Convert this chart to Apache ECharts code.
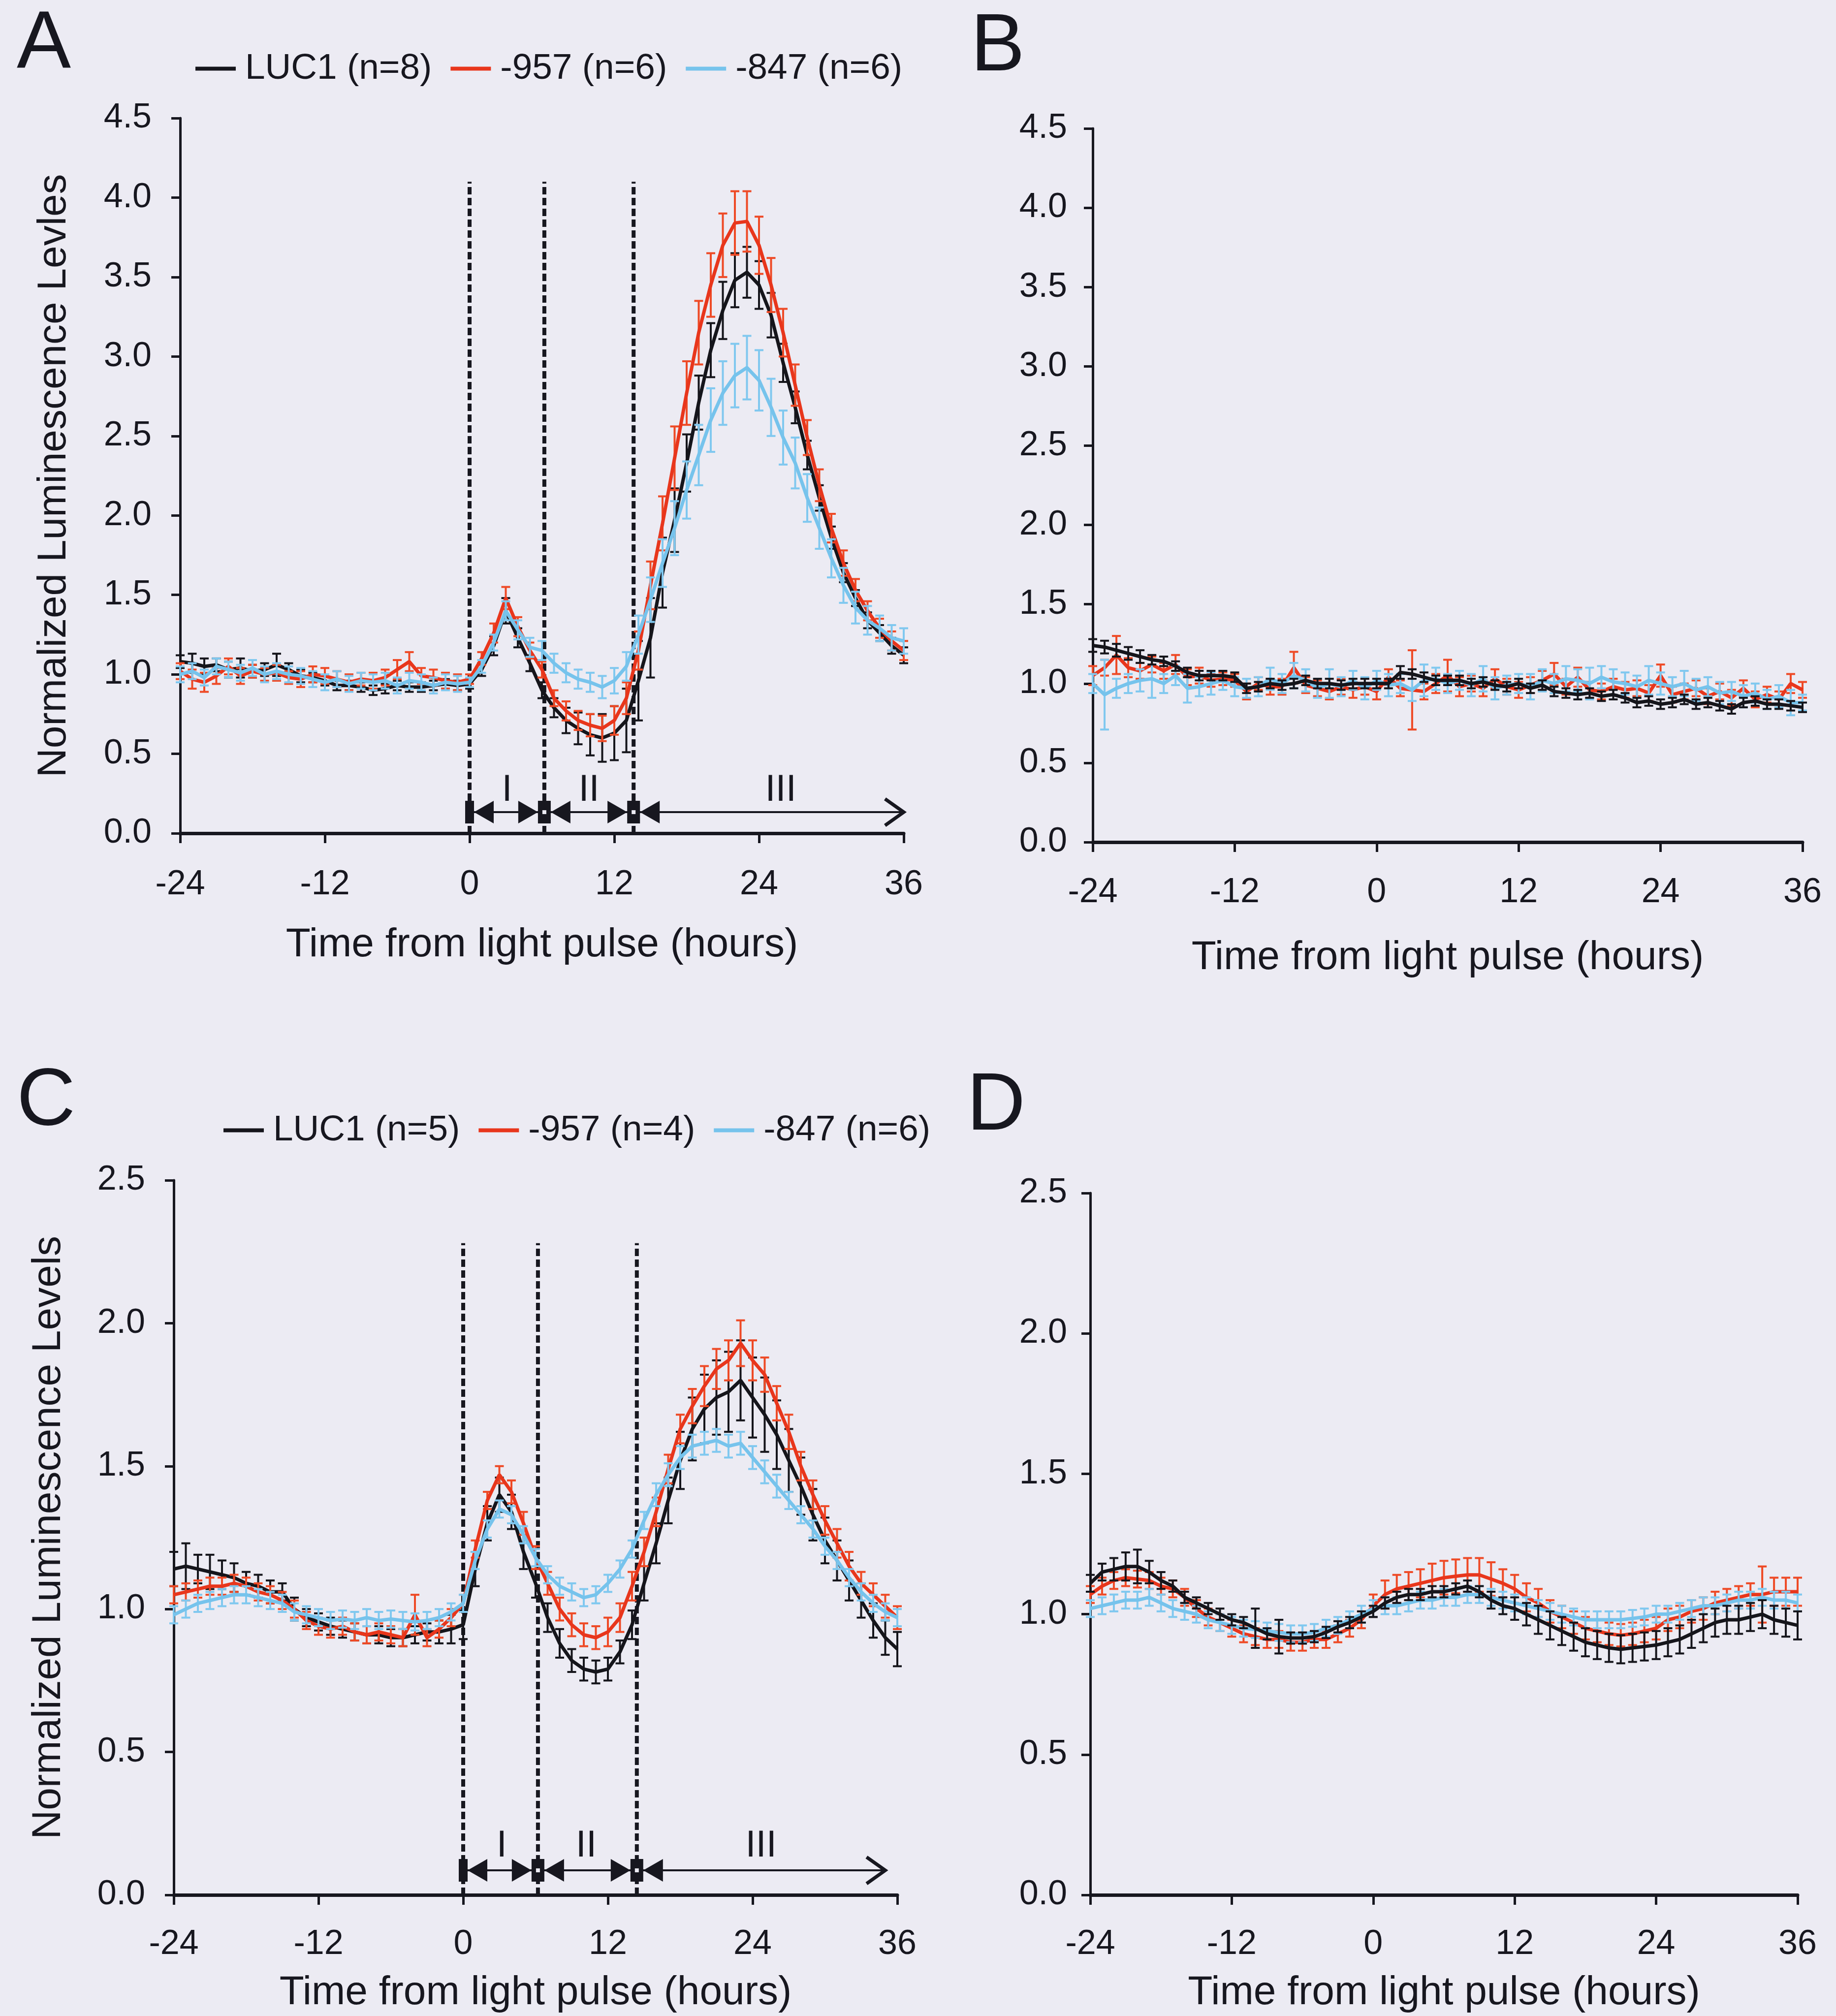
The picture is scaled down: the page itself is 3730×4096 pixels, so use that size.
<!DOCTYPE html>
<html>
<head>
<meta charset="utf-8">
<script src="https://cdn.jsdelivr.net/npm/echarts@6/dist/echarts.min.js"></script>
<style>
  html, body { margin: 0; padding: 0; background: #ecebf3; }
  #chart { width: 3730px; height: 4096px; }
</style>
</head>
<body>
<div id="chart"></div>
<script>
// time axis, hours from light pulse (one reading per hour)
const hours = [-24,-23,-22,-21,-20,-19,-18,-17,-16,-15,-14,-13,-12,-11,-10,-9,-8,-7,-6,-5,-4,-3,-2,-1,
  0,1,2,3,4,5,6,7,8,9,10,11,12,13,14,15,16,17,18,19,20,21,22,23,24,25,26,27,28,29,30,31,32,33,34,35,36];

// panel A
const aLuc1 = [1.08,1.07,1.05,1.06,1.03,1.04,1.02,1.03,1.06,1.03,0.99,0.98,0.96,0.93,0.93,0.92,0.90,0.91,0.93,0.92,0.92,0.93,0.94,0.93,
  0.94,1.03,1.18,1.40,1.23,1.07,0.90,0.79,0.71,0.66,0.62,0.60,0.63,0.71,0.96,1.23,1.64,1.97,2.33,2.71,3.04,3.29,3.48,3.53,3.45,3.26,2.96,2.68,2.38,2.11,1.86,1.64,1.48,1.34,1.26,1.18,1.12];
const a957 = [1.02,0.97,0.95,0.99,1.05,0.99,1.02,1.00,1.01,0.98,0.97,1.00,0.99,0.97,0.95,0.97,0.96,0.98,1.03,1.08,0.99,0.98,0.96,0.95,
  0.97,1.10,1.26,1.48,1.30,1.15,1.03,0.85,0.77,0.71,0.68,0.66,0.71,0.85,1.15,1.56,1.95,2.36,2.77,3.15,3.45,3.70,3.84,3.85,3.70,3.45,3.15,2.82,2.49,2.19,1.92,1.70,1.53,1.40,1.29,1.21,1.15];
const a847 = [1.00,1.02,0.98,1.05,1.03,1.01,1.04,1.00,1.02,1.00,0.99,0.97,0.95,0.97,0.94,0.96,0.95,0.96,0.93,0.96,0.95,0.93,0.95,0.94,
  0.95,1.05,1.20,1.40,1.28,1.17,1.15,1.07,1.01,0.97,0.95,0.92,0.96,1.05,1.25,1.47,1.70,1.92,2.16,2.38,2.60,2.77,2.88,2.93,2.85,2.68,2.49,2.33,2.11,1.92,1.73,1.56,1.42,1.34,1.29,1.23,1.21];
const aLuc1Err = [0.04,0.06,0.05,0.04,0.05,0.06,0.04,0.04,0.07,0.04,0.04,0.03,0.03,0.03,0.03,0.03,0.03,0.03,0.03,0.03,0.03,0.03,0.03,0.03,
  0.03,0.04,0.06,0.08,0.06,0.05,0.05,0.06,0.08,0.10,0.13,0.15,0.17,0.20,0.25,0.25,0.22,0.20,0.18,0.17,0.17,0.18,0.17,0.16,0.15,0.14,0.12,0.10,0.09,0.08,0.07,0.06,0.05,0.05,0.05,0.05,0.05];
const a957Err = [0.05,0.06,0.06,0.05,0.05,0.05,0.04,0.04,0.05,0.04,0.05,0.05,0.05,0.05,0.05,0.04,0.05,0.05,0.06,0.06,0.05,0.05,0.05,0.05,
  0.03,0.04,0.06,0.07,0.06,0.05,0.05,0.05,0.06,0.06,0.07,0.08,0.09,0.10,0.12,0.15,0.17,0.20,0.20,0.20,0.20,0.20,0.20,0.19,0.18,0.17,0.15,0.13,0.11,0.10,0.09,0.08,0.07,0.06,0.06,0.06,0.06];
const a847Err = [0.05,0.05,0.05,0.05,0.05,0.05,0.05,0.05,0.05,0.05,0.05,0.05,0.05,0.05,0.05,0.05,0.05,0.05,0.05,0.05,0.05,0.05,0.05,0.05,
  0.03,0.04,0.05,0.06,0.06,0.06,0.06,0.06,0.06,0.06,0.06,0.07,0.08,0.09,0.12,0.14,0.15,0.17,0.18,0.19,0.20,0.20,0.20,0.20,0.19,0.18,0.17,0.16,0.15,0.13,0.12,0.11,0.10,0.09,0.08,0.08,0.08];

// panel B
const bLuc1 = [1.24,1.23,1.21,1.19,1.17,1.15,1.14,1.11,1.07,1.05,1.05,1.05,1.04,0.97,0.98,1.00,0.99,1.00,1.02,1.00,1.00,0.99,1.00,1.00,
  1.00,1.00,1.07,1.06,1.04,1.02,1.02,1.02,1.00,1.01,0.99,0.98,1.00,0.97,0.99,0.95,0.94,0.93,0.94,0.92,0.93,0.91,0.88,0.89,0.87,0.88,0.90,0.87,0.88,0.86,0.84,0.88,0.89,0.87,0.87,0.86,0.85];
const b957 = [1.05,1.10,1.18,1.10,1.08,1.12,1.08,1.12,1.04,1.05,1.02,1.03,1.02,0.95,1.00,0.98,0.98,1.10,0.99,0.97,0.95,0.98,0.96,0.98,
  0.95,1.04,0.97,0.96,0.95,1.00,1.05,0.98,1.00,0.97,1.03,0.98,0.96,0.99,1.02,1.06,0.98,1.04,0.96,0.95,0.98,0.96,0.97,0.94,1.05,0.93,0.95,0.97,0.92,0.95,0.91,0.97,0.90,0.93,0.90,1.00,0.96];
const b847 = [1.00,0.93,0.97,1.00,1.02,1.03,1.00,1.05,0.97,0.98,1.00,1.02,0.98,0.97,0.98,1.03,1.00,1.05,1.02,0.97,1.00,0.98,1.02,0.97,
  1.02,0.99,1.00,0.96,1.02,1.03,1.00,1.02,0.99,1.03,0.97,0.99,1.00,0.98,1.02,1.00,1.03,1.02,1.00,1.04,1.01,1.00,0.98,1.02,1.00,0.98,1.00,0.96,0.98,0.94,0.95,0.92,0.94,0.90,0.92,0.88,0.88];
const bLuc1Err = [0.04,0.04,0.04,0.04,0.04,0.03,0.03,0.03,0.03,0.03,0.03,0.03,0.03,0.03,0.03,0.03,0.03,0.03,0.03,0.03,0.03,0.03,0.03,0.03,
  0.03,0.03,0.04,0.03,0.03,0.03,0.03,0.03,0.03,0.03,0.03,0.03,0.03,0.03,0.03,0.03,0.03,0.03,0.03,0.03,0.03,0.03,0.03,0.03,0.03,0.03,0.03,0.03,0.03,0.03,0.03,0.03,0.03,0.03,0.03,0.03,0.03];
const b957Err = [0.06,0.05,0.12,0.06,0.05,0.05,0.05,0.06,0.05,0.05,0.04,0.04,0.04,0.05,0.04,0.05,0.05,0.10,0.05,0.05,0.05,0.05,0.05,0.05,
  0.05,0.05,0.05,0.25,0.05,0.06,0.10,0.06,0.05,0.05,0.06,0.05,0.05,0.05,0.06,0.07,0.05,0.06,0.05,0.05,0.05,0.05,0.05,0.05,0.07,0.05,0.05,0.05,0.05,0.05,0.05,0.05,0.05,0.05,0.05,0.06,0.05];
const b847Err = [0.06,0.22,0.06,0.06,0.07,0.12,0.06,0.06,0.09,0.06,0.07,0.06,0.06,0.06,0.06,0.07,0.06,0.08,0.07,0.06,0.09,0.06,0.06,0.07,
  0.06,0.07,0.06,0.07,0.10,0.07,0.06,0.06,0.07,0.08,0.07,0.06,0.06,0.08,0.07,0.06,0.08,0.07,0.10,0.07,0.08,0.07,0.07,0.09,0.07,0.06,0.08,0.07,0.06,0.07,0.06,0.07,0.06,0.06,0.07,0.08,0.05];

// panel C
const cLuc1 = [1.14,1.15,1.14,1.13,1.12,1.11,1.09,1.08,1.06,1.06,1.00,0.97,0.955,0.94,0.93,0.92,0.91,0.91,0.90,0.90,0.91,0.92,0.92,0.93,
  0.945,1.14,1.30,1.40,1.34,1.20,1.09,0.97,0.88,0.82,0.79,0.78,0.79,0.85,0.945,1.09,1.23,1.38,1.52,1.63,1.70,1.74,1.76,1.80,1.74,1.68,1.61,1.52,1.43,1.33,1.24,1.17,1.10,1.03,0.96,0.90,0.86];
const c957 = [1.05,1.06,1.07,1.08,1.08,1.09,1.08,1.06,1.05,1.03,1.00,0.96,0.94,0.93,0.94,0.92,0.91,0.92,0.91,0.90,0.98,0.90,0.93,0.97,
  1.02,1.21,1.38,1.47,1.41,1.30,1.18,1.09,1.00,0.945,0.91,0.90,0.92,0.97,1.08,1.20,1.34,1.49,1.63,1.71,1.78,1.84,1.87,1.93,1.87,1.82,1.72,1.62,1.50,1.40,1.31,1.23,1.15,1.09,1.05,1.01,0.97];
const c847 = [0.98,1.00,1.02,1.03,1.04,1.05,1.05,1.04,1.03,1.02,0.99,0.98,0.97,0.96,0.965,0.96,0.97,0.96,0.965,0.96,0.955,0.96,0.97,0.99,
  1.02,1.17,1.28,1.35,1.33,1.26,1.18,1.12,1.08,1.06,1.04,1.05,1.09,1.14,1.21,1.31,1.40,1.47,1.53,1.57,1.58,1.59,1.57,1.58,1.53,1.48,1.43,1.38,1.33,1.28,1.22,1.17,1.11,1.06,1.02,0.99,0.97];
const cLuc1Err = [0.06,0.08,0.05,0.06,0.05,0.05,0.04,0.04,0.04,0.03,0.04,0.03,0.03,0.03,0.03,0.03,0.03,0.03,0.03,0.03,0.03,0.03,0.04,0.05,
  0.05,0.06,0.06,0.06,0.06,0.06,0.05,0.05,0.05,0.04,0.04,0.04,0.04,0.04,0.05,0.06,0.07,0.08,0.10,0.11,0.12,0.13,0.14,0.14,0.14,0.13,0.12,0.11,0.10,0.09,0.08,0.07,0.07,0.06,0.06,0.06,0.06];
const c957Err = [0.03,0.03,0.03,0.03,0.03,0.03,0.03,0.03,0.03,0.03,0.03,0.03,0.03,0.03,0.03,0.03,0.03,0.03,0.03,0.03,0.07,0.03,0.03,0.03,
  0.03,0.03,0.03,0.03,0.04,0.04,0.04,0.04,0.04,0.04,0.04,0.04,0.05,0.05,0.05,0.05,0.05,0.05,0.05,0.06,0.07,0.07,0.07,0.08,0.07,0.06,0.06,0.06,0.05,0.05,0.05,0.05,0.05,0.04,0.04,0.04,0.04];
const c847Err = [0.03,0.03,0.03,0.03,0.03,0.03,0.03,0.03,0.03,0.03,0.03,0.03,0.03,0.03,0.03,0.03,0.03,0.03,0.03,0.03,0.03,0.03,0.03,0.03,
  0.03,0.03,0.03,0.03,0.03,0.03,0.03,0.03,0.03,0.03,0.03,0.03,0.03,0.03,0.03,0.03,0.04,0.04,0.04,0.04,0.04,0.04,0.04,0.04,0.04,0.04,0.04,0.03,0.03,0.03,0.03,0.03,0.03,0.03,0.03,0.03,0.03];

// panel D
const dLuc1 = [1.11,1.15,1.16,1.17,1.17,1.15,1.12,1.10,1.06,1.04,1.02,1.00,0.98,0.97,0.95,0.93,0.92,0.915,0.915,0.92,0.935,0.955,0.97,0.99,
  1.01,1.04,1.06,1.07,1.07,1.08,1.08,1.09,1.10,1.08,1.05,1.03,1.02,1.00,0.98,0.96,0.94,0.92,0.90,0.89,0.88,0.875,0.88,0.885,0.89,0.90,0.91,0.93,0.95,0.97,0.98,0.98,0.99,1.00,0.98,0.97,0.96];
const d957 = [1.07,1.10,1.12,1.13,1.125,1.12,1.10,1.09,1.06,1.02,0.99,0.97,0.95,0.93,0.92,0.91,0.91,0.90,0.90,0.91,0.91,0.93,0.95,0.98,
  1.03,1.07,1.09,1.10,1.11,1.12,1.13,1.135,1.14,1.14,1.125,1.11,1.09,1.06,1.04,1.01,0.99,0.97,0.95,0.94,0.93,0.925,0.93,0.94,0.95,0.98,0.99,1.01,1.02,1.04,1.05,1.06,1.07,1.07,1.08,1.08,1.08];
const d847 = [1.02,1.03,1.04,1.05,1.05,1.06,1.04,1.02,1.01,1.00,0.98,0.97,0.96,0.95,0.945,0.94,0.935,0.93,0.93,0.935,0.95,0.96,0.98,1.00,
  1.02,1.03,1.03,1.04,1.05,1.05,1.06,1.06,1.07,1.07,1.06,1.05,1.04,1.03,1.02,1.01,1.00,0.99,0.98,0.98,0.98,0.98,0.985,0.99,1.00,1.00,1.01,1.02,1.03,1.03,1.04,1.05,1.05,1.06,1.05,1.05,1.04];
const dLuc1Err = [0.03,0.03,0.04,0.05,0.06,0.04,0.03,0.02,0.02,0.02,0.02,0.02,0.02,0.02,0.07,0.02,0.06,0.02,0.02,0.02,0.02,0.02,0.02,0.02,
  0.02,0.02,0.02,0.02,0.02,0.02,0.02,0.02,0.02,0.02,0.03,0.03,0.04,0.04,0.05,0.05,0.05,0.05,0.05,0.05,0.05,0.05,0.05,0.05,0.05,0.05,0.05,0.05,0.05,0.05,0.05,0.05,0.05,0.05,0.05,0.05,0.05];
const d957Err = [0.03,0.03,0.03,0.03,0.03,0.03,0.03,0.03,0.03,0.03,0.03,0.03,0.03,0.03,0.03,0.03,0.03,0.03,0.03,0.03,0.03,0.03,0.03,0.03,
  0.04,0.05,0.05,0.05,0.05,0.06,0.06,0.06,0.06,0.06,0.06,0.05,0.05,0.05,0.05,0.04,0.04,0.04,0.04,0.04,0.04,0.04,0.04,0.04,0.04,0.04,0.04,0.04,0.04,0.04,0.04,0.04,0.04,0.10,0.05,0.05,0.05];
const d847Err = [0.03,0.03,0.03,0.03,0.03,0.03,0.03,0.03,0.03,0.03,0.03,0.03,0.03,0.03,0.03,0.03,0.03,0.03,0.03,0.03,0.03,0.03,0.03,0.03,
  0.03,0.03,0.03,0.03,0.03,0.03,0.03,0.03,0.03,0.03,0.03,0.03,0.03,0.03,0.03,0.03,0.03,0.03,0.03,0.03,0.03,0.03,0.03,0.03,0.03,0.03,0.03,0.03,0.03,0.03,0.03,0.03,0.03,0.03,0.03,0.03,0.03];

// phase markers (hours) for A and C
const phaseA = [0, 6.2, 13.6];
const phaseC = [0, 6.2, 14.4];
const phaseLabels = ['I', 'II', 'III'];
const phaseLabelPosA = [3.1, 9.9, 25.8];
const phaseLabelPosC = [3.2, 10.2, 24.7];

const legendA = ['LUC1 (n=8)', '-957 (n=6)', '-847 (n=6)'];
const legendC = ['LUC1 (n=5)', '-957 (n=4)', '-847 (n=6)'];

const FONT = '"Liberation Sans", Arial, sans-serif';
const INK = '#17171f';
const BLACK = '#15151b', RED = '#e8361c', BLUE = '#76c3ec';
const RED_ERR = '#ee4a26', BLUE_ERR = '#80c8ef';

function pairs(vals) { return hours.map((h, i) => [h, vals[i]]); }
function triples(vals, errs) { return hours.map((h, i) => [h, vals[i], errs[i]]); }

function curve(gi, name, vals, color, z) {
  return {
    type: 'line', name: name, xAxisIndex: gi, yAxisIndex: gi,
    data: pairs(vals), showSymbol: false, symbol: 'none', color: color,
    lineStyle: { color: color, width: 7 }, z: z, silent: true
  };
}

function errorBars(gi, vals, errs, color, z) {
  return {
    type: 'custom', xAxisIndex: gi, yAxisIndex: gi, z: z, silent: true,
    encode: { x: 0, y: 1 },
    data: triples(vals, errs),
    renderItem: function (params, api) {
      const t = api.value(0), v = api.value(1), e = api.value(2);
      const hi = api.coord([t, v + e]);
      const lo = api.coord([t, v - e]);
      const w = 9;
      const st = function () { return { stroke: color, lineWidth: 4 }; };
      return {
        type: 'group',
        children: [
          { type: 'line', shape: { x1: hi[0], y1: hi[1], x2: lo[0], y2: lo[1] }, style: st() },
          { type: 'line', shape: { x1: hi[0] - w, y1: hi[1], x2: hi[0] + w, y2: hi[1] }, style: st() },
          { type: 'line', shape: { x1: lo[0] - w, y1: lo[1], x2: lo[0] + w, y2: lo[1] }, style: st() }
        ]
      };
    }
  };
}

function dashLines(gi, bounds, top) {
  return {
    type: 'custom', xAxisIndex: gi, yAxisIndex: gi, z: 1, silent: true,
    encode: { x: 0, y: 1 },
    data: bounds.map(b => [b, top]),
    renderItem: function (params, api) {
      const a = api.coord([api.value(0), 0]);
      const b = api.coord([api.value(0), api.value(1)]);
      return {
        type: 'line',
        shape: { x1: a[0], y1: a[1], x2: b[0], y2: b[1] },
        style: { stroke: INK, lineWidth: 8, lineDash: [15, 7] }
      };
    }
  };
}

function phaseArrow(gi, bounds, arrowEnd, yLine, labelPos, yLabel) {
  return {
    type: 'custom', xAxisIndex: gi, yAxisIndex: gi, z: 8, silent: true,
    encode: { x: 0, y: 1 },
    data: [[bounds[0], yLine]],
    renderItem: function (params, api) {
      const s = api.coord([bounds[0], yLine]);
      const e = api.coord([arrowEnd, yLine]);
      const y = s[1];
      const h = 23;
      const kids = [];
      const tri = function (tip, base) {
        return { type: 'polygon', shape: { points: [[tip, y], [base, y - h], [base, y + h]] }, style: { fill: INK } };
      };
      kids.push({ type: 'line', shape: { x1: s[0], y1: y, x2: e[0], y2: y }, style: { stroke: INK, lineWidth: 4 } });
      kids.push({ type: 'polyline', shape: { points: [[e[0] - 38, y - 27], [e[0], y], [e[0] - 38, y + 27]] },
        style: { stroke: INK, lineWidth: 7, fill: 'none' } });
      bounds.forEach(function (b, i) {
        const x = api.coord([b, yLine])[0];
        if (i === 0) {
          kids.push({ type: 'rect', shape: { x: x - 9, y: y - h, width: 18, height: 2 * h }, style: { fill: INK } });
          kids.push(tri(x + 9, x + 49));
        } else {
          kids.push({ type: 'rect', shape: { x: x - 13, y: y - h, width: 26, height: 2 * h }, style: { fill: INK } });
          kids.push({ type: 'rect', shape: { x: x - 4, y: y - 4, width: 8, height: 8 }, style: { fill: '#ecebf3' } });
          kids.push(tri(x - 13, x - 53));
          kids.push(tri(x + 13, x + 53));
        }
      });
      phaseLabels.forEach(function (txt, i) {
        const p = api.coord([labelPos[i], yLabel]);
        kids.push({ type: 'text', x: p[0], y: p[1],
          style: { text: txt, fill: INK, fontSize: 76, fontFamily: FONT, align: 'center', verticalAlign: 'middle' } });
      });
      return { type: 'group', children: kids };
    }
  };
}

function xAxis(gi, gap, margin) {
  return {
    type: 'value', gridIndex: gi, min: -24, max: 36, interval: 12,
    name: 'Time from light pulse (hours)', nameLocation: 'middle', nameGap: gap,
    nameTextStyle: { fontSize: 82, color: INK, fontFamily: FONT },
    axisLine: { onZero: false, lineStyle: { color: INK, width: 7 } },
    axisTick: { length: 20, lineStyle: { color: INK, width: 5 } },
    axisLabel: { margin: margin, fontSize: 70, color: INK, fontFamily: FONT },
    splitLine: { show: false }
  };
}

function yAxis(gi, max, margin, title, gap) {
  const ax = {
    type: 'value', gridIndex: gi, min: 0, max: max, interval: 0.5,
    axisLine: { show: true, onZero: false, lineStyle: { color: INK, width: 5 } },
    axisTick: { show: true, length: 18, lineStyle: { color: INK, width: 5 } },
    axisLabel: { margin: margin, fontSize: 70, color: INK, fontFamily: FONT, formatter: v => v.toFixed(1) },
    splitLine: { show: false }
  };
  if (title) {
    ax.name = title;
    ax.nameLocation = 'middle';
    ax.nameRotate = 90;
    ax.nameGap = gap;
    ax.nameTextStyle = { fontSize: 82, color: INK, fontFamily: FONT };
  }
  return ax;
}

// blackOnTop: LUC1 drawn last (panels B and D)
function panel(gi, names, luc, r957, b847, lucErr, rErr, bErr, blackOnTop) {
  const zl = blackOnTop ? 6 : 2, zr = blackOnTop ? 2 : 4, zb = blackOnTop ? 4 : 6;
  return [
    errorBars(gi, luc, lucErr, BLACK, zl),
    curve(gi, names[0], luc, BLACK, zl + 1),
    errorBars(gi, r957, rErr, RED_ERR, zr),
    curve(gi, names[1], r957, RED, zr + 1),
    errorBars(gi, b847, bErr, BLUE_ERR, zb),
    curve(gi, names[2], b847, BLUE, zb + 1)
  ];
}

function legend(names, left, top) {
  return {
    data: names, left: left, top: top, orient: 'horizontal', selectedMode: false,
    icon: 'rect', itemWidth: 82, itemHeight: 8, itemGap: 38,
    textStyle: { fontSize: 73, color: INK, fontFamily: FONT, padding: [0, 0, 0, 14] }
  };
}

function letter(txt, left, y) {
  return { type: 'text', left: left, top: y - 95,
    style: { text: txt, fontSize: 165, fontFamily: FONT, fill: INK } };
}

const chart = echarts.init(document.getElementById('chart'));
chart.setOption({
  animation: false,
  backgroundColor: '#ecebf3',
  grid: [
    { left: 366, top: 240, width: 1470, height: 1453, outerBoundsMode: 'none' },
    { left: 2220, top: 261, width: 1442, height: 1450, outerBoundsMode: 'none' },
    { left: 353, top: 2398, width: 1470, height: 1452, outerBoundsMode: 'none' },
    { left: 2215, top: 2424, width: 1437, height: 1426, outerBoundsMode: 'none' }
  ],
  xAxis: [xAxis(0, 186, 70), xAxis(1, 194, 68), xAxis(2, 158, 66), xAxis(3, 158, 66)],
  yAxis: [
    yAxis(0, 4.5, 58, 'Normalized Luminescence Levles', 215),
    yAxis(1, 4.5, 52),
    yAxis(2, 2.5, 58, 'Normalized Luminescence Levels', 213),
    yAxis(3, 2.5, 47)
  ],
  legend: [legend(legendA, 392, 98), legend(legendC, 449, 2255)],
  graphic: [
    letter('A', 34, 104), letter('B', 1972, 110), letter('C', 34, 2252), letter('D', 1964, 2262)
  ],
  series: [].concat(
    [dashLines(0, phaseA, 4.1), phaseArrow(0, phaseA, 36, 0.133, phaseLabelPosA, 0.27)],
    panel(0, legendA, aLuc1, a957, a847, aLuc1Err, a957Err, a847Err, false),
    panel(1, ['B LUC1', 'B -957', 'B -847'], bLuc1, b957, b847, bLuc1Err, b957Err, b847Err, true),
    [dashLines(2, phaseC, 2.28), phaseArrow(2, phaseC, 35, 0.086, phaseLabelPosC, 0.17)],
    panel(2, legendC, cLuc1, c957, c847, cLuc1Err, c957Err, c847Err, false),
    panel(3, ['D LUC1', 'D -957', 'D -847'], dLuc1, d957, d847, dLuc1Err, d957Err, d847Err, true)
  )
});
</script>
</body>
</html>
